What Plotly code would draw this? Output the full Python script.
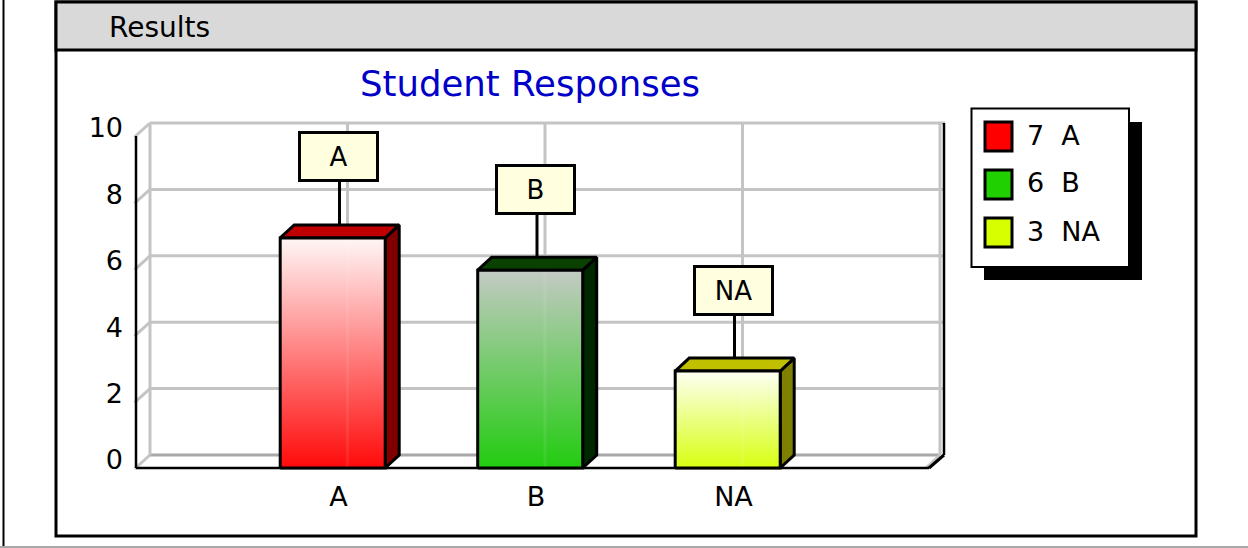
import plotly.graph_objects as go

W, H = 1248, 548

# ---- data ----
categories = ["A", "B", "NA"]
counts = [7, 6, 3]
bar_heights = [6.93, 5.96, 2.92]
y_ticks = [0, 2, 4, 6, 8, 10]
positions = [1, 2, 3]
title_text = "Student Responses"
panel_text = "Results"

# ---- style ----
legend_colors = ["#ff0000", "#20d000", "#d8ff00"]
top_colors = ["#c00000", "#0a4000", "#c0c000"]
side_colors = ["#800000", "#002800", "#808000"]
grad_top = ["#fff6f6", "#c4cac4", "#fdfff4"]
grad_bottom = ["#ff0a0a", "#22cc10", "#d8ff10"]
GRID = "#c4c4c4"
FONT = "DejaVu Sans"
LW = 3

# axis geometry (pixels of the page)
x0_px, x1_px = 136, 929      # front edge of the floor
px_x = 197.5                 # px per category
px_y = 33.2                  # px per value unit
y0_px = 468
PAD = 8                      # plot area reaches past the drawing so lines are not clipped
plot_l, plot_r = x0_px - PAD, 950
plot_b, plot_t = y0_px + PAD, 112
DX = 14 / px_x               # depth in axis units
DY = 13 / px_y
BAR_HALF = 52.5 / px_x
BAR_SHIFT = -0.8 / px_x
FRONT_END = (x1_px - x0_px) / px_x


def fx(p):
    return p / W


def fy(p):
    return 1 - p / H


fig = go.Figure()


def line(xs, ys, color, width):
    fig.add_trace(go.Scatter(x=xs, y=ys, mode="lines", line=dict(color=color, width=width),
                             hoverinfo="skip", showlegend=False, cliponaxis=False))


def face(xs, ys, color):
    fig.add_trace(go.Scatter(x=xs, y=ys, mode="lines", fill="toself", fillcolor=color,
                             line=dict(color="black", width=LW), hoverinfo="skip",
                             showlegend=False, cliponaxis=False))


# grid: back wall and left wall
back_gray = FRONT_END + DX - 3 / px_x
back_end = FRONT_END + DX + 2 / px_x
for t in y_ticks:
    line([DX, back_gray if t == 0 else back_end], [t + DY, t + DY],
         "#a8a8a8" if t == 0 else GRID, 3)
    line([-1.5 / px_x, DX], [t - 1 / px_y, t + DY], GRID, 3)
for p in positions:
    line([p + DX, p + DX], [DY, y_ticks[-1] + DY], GRID, 3)
line([DX, DX], [DY, y_ticks[-1] + DY], GRID, 3)
line([back_gray] * 2, [DY, y_ticks[-1] + DY], GRID, 3)
line([FRONT_END - 3 / px_x, back_gray], [0, DY], GRID, 3)

# axis lines
line([FRONT_END + DX + 1 / px_x] * 2, [DY, y_ticks[-1] + DY], "black", 2.5)
line([FRONT_END, FRONT_END + DX + 1 / px_x], [0, DY], "black", 3)
line([0, 0], [0, y_ticks[-1]], "black", 2.5)
line([0, FRONT_END], [0, 0], "black", 2.5)

# bars
for i, (p, v) in enumerate(zip(positions, bar_heights)):
    l, r = p + BAR_SHIFT - BAR_HALF, p + BAR_SHIFT + BAR_HALF
    face([r, r + DX, r + DX, r, r], [0, DY, v + DY, v, 0], side_colors[i])
    face([l, l + DX, r + DX, r, l], [v, v + DY, v + DY, v, v], top_colors[i])
    fig.add_trace(go.Scatter(
        x=[l, r, r, l, l], y=[0, 0, v, v, 0], mode="lines", fill="toself",
        fillgradient=dict(type="vertical",
                          colorscale=[[0, grad_bottom[i]], [1, grad_top[i]]]),
        line=dict(color="black", width=LW), hoverinfo="skip", showlegend=False,
        cliponaxis=False))
    # grid line faintly visible through the bar
    line([p + DX, p + DX], [0.05, v - 0.05], "rgba(255,255,255,0.08)", 3)
    # leader line to the data label
    lx = p + 6 / px_x
    line([lx, lx], [v + DY, v + 57 / px_y], "black", LW)

# data labels
annotations = []
for p, v, c in zip(positions, bar_heights, categories):
    annotations.append(dict(
        x=p, y=v, xref="x", yref="y", text=c, showarrow=False,
        xshift=4.5, yshift=81, width=75, height=45,
        bgcolor="#ffffe0", bordercolor="black", borderwidth=3, borderpad=0,
        font=dict(family=FONT, size=26, color="black")))

# panel caption
annotations.append(dict(x=fx(107), y=fy(27.5), xref="paper", yref="paper", text=panel_text,
                        xanchor="left", yanchor="middle", showarrow=False,
                        font=dict(family=FONT, size=28, color="black")))

shapes = [
    dict(type="line", xref="paper", yref="paper", x0=fx(3.5), x1=fx(3.5), y0=fy(0), y1=fy(547),
         line=dict(color="black", width=2), layer="below"),
    dict(type="line", xref="paper", yref="paper", x0=0, x1=1, y0=fy(547), y1=fy(547),
         line=dict(color="#a8a8a8", width=2), layer="below"),
    dict(type="rect", xref="paper", yref="paper", x0=fx(56), x1=fx(1196), y0=fy(2), y1=fy(536),
         fillcolor="white", line=dict(color="black", width=3), layer="below"),
    dict(type="rect", xref="paper", yref="paper", x0=fx(56), x1=fx(1196), y0=fy(2), y1=fy(50),
         fillcolor="#d9d9d9", line=dict(color="black", width=3), layer="below"),
    dict(type="rect", xref="paper", yref="paper", x0=fx(984), x1=fx(1142), y0=fy(122), y1=fy(280),
         fillcolor="black", line=dict(width=0), layer="below"),
    dict(type="rect", xref="paper", yref="paper", x0=fx(971.5), x1=fx(1129), y0=fy(108.5), y1=fy(267),
         fillcolor="white", line=dict(color="black", width=2), layer="below"),
]
# legend entries
for i, (v, c) in enumerate(zip(counts, categories)):
    top = 122 + i * 48
    shapes.append(dict(type="rect", xref="paper", yref="paper", x0=fx(985), x1=fx(1012),
                       y0=fy(top), y1=fy(top + 29), fillcolor=legend_colors[i],
                       line=dict(color="black", width=3), layer="below"))
    annotations.append(dict(x=fx(1025), y=fy(top + 13), xref="paper", yref="paper",
                            text=f"{v}&nbsp;&nbsp;{c}", xanchor="left", yanchor="middle",
                            showarrow=False, font=dict(family=FONT, size=27, color="black")))

fig.update_layout(
    width=W, height=H, autosize=False,
    margin=dict(l=0, r=0, t=0, b=0, pad=0, autoexpand=False),
    paper_bgcolor="white", plot_bgcolor="rgba(0,0,0,0)",
    showlegend=False,
    title=dict(text=title_text, x=fx(530), y=fy(84), xref="paper", yref="paper",
               xanchor="center", yanchor="middle",
               font=dict(family=FONT, size=35.5, color="#0000c8")),
    xaxis=dict(domain=[fx(plot_l), fx(plot_r)],
               range=[(plot_l - x0_px) / px_x, (plot_r - x0_px) / px_x],
               tickmode="array", tickvals=positions, ticktext=categories,
               showgrid=False, zeroline=False, showline=False, ticks="", automargin=False,
               ticklabelshift=5, ticklabelstandoff=2,
               tickfont=dict(family=FONT, size=27, color="black")),
    yaxis=dict(domain=[fy(plot_b), fy(plot_t)],
               range=[(y0_px - plot_b) / px_y, (y0_px - plot_t) / px_y],
               tickmode="array", tickvals=y_ticks,
               showgrid=False, zeroline=False, showline=False, ticks="", automargin=False,
               ticklabelshift=-8, ticklabelstandoff=4,
               tickfont=dict(family=FONT, size=27, color="black")),
    annotations=annotations, shapes=shapes,
)

fig.write_html("out.html", config={"displayModeBar": False},
               post_script="document.body.style.margin='0';document.body.style.overflow='hidden';")
